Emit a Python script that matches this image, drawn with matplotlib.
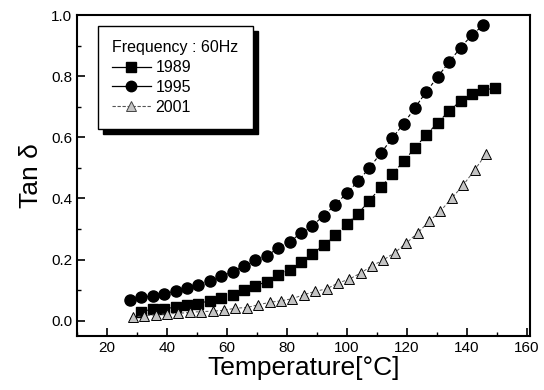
import matplotlib
matplotlib.use("Agg")
import matplotlib.pyplot as plt
from matplotlib.lines import Line2D
from matplotlib.ticker import MultipleLocator

plt.rcParams['font.family'] = ['Liberation Sans', 'DejaVu Sans']

# Data
temp_1989 = [31.5, 35.3, 39.1, 42.9, 46.7, 50.5, 54.3, 58.1, 61.9, 65.7, 69.5,
             73.3, 77.1, 80.9, 84.7, 88.5, 92.3, 96.1, 99.9, 103.7, 107.5,
             111.3, 115.1, 118.9, 122.7, 126.5, 130.3, 134.1, 137.9, 141.7,
             145.5, 149.3]
tan_1989 = [0.030, 0.038, 0.038, 0.045, 0.052, 0.056, 0.066, 0.073, 0.085,
            0.099, 0.114, 0.128, 0.150, 0.167, 0.191, 0.218, 0.248, 0.279,
            0.316, 0.350, 0.393, 0.436, 0.479, 0.521, 0.566, 0.608, 0.648,
            0.686, 0.719, 0.741, 0.755, 0.760]

temp_1995 = [27.7, 31.5, 35.3, 39.1, 42.9, 46.7, 50.5, 54.3, 58.1, 61.9, 65.7,
             69.5, 73.3, 77.1, 80.9, 84.7, 88.5, 92.3, 96.1, 99.9, 103.7,
             107.5, 111.3, 115.1, 118.9, 122.7, 126.5, 130.3, 134.1, 137.9,
             141.7, 145.5]
tan_1995 = [0.069, 0.076, 0.082, 0.087, 0.098, 0.107, 0.118, 0.131, 0.145,
            0.160, 0.180, 0.197, 0.211, 0.239, 0.259, 0.286, 0.311, 0.344,
            0.379, 0.417, 0.456, 0.500, 0.548, 0.597, 0.644, 0.697, 0.749,
            0.798, 0.847, 0.893, 0.935, 0.967]

temp_2001 = [28.6, 32.4, 36.2, 40.0, 43.8, 47.6, 51.4, 55.2, 59.0, 62.8, 66.6,
             70.4, 74.2, 78.0, 81.8, 85.6, 89.4, 93.2, 97.0, 100.8, 104.6,
             108.4, 112.2, 116.0, 119.8, 123.6, 127.4, 131.2, 135.0, 138.8,
             142.6, 146.4]
tan_2001 = [0.012, 0.016, 0.020, 0.022, 0.024, 0.027, 0.030, 0.031, 0.034,
            0.041, 0.043, 0.052, 0.060, 0.065, 0.072, 0.085, 0.096, 0.104,
            0.123, 0.136, 0.156, 0.180, 0.199, 0.223, 0.254, 0.287, 0.325,
            0.359, 0.401, 0.444, 0.493, 0.546]

fig = plt.figure(figsize=(5.44, 3.9), dpi=100)
ax = fig.add_axes([0.1415, 0.1385, 0.8325, 0.823])

ax.plot(temp_1989, tan_1989, color='black', lw=0.8, ls=(0, (3, 2)),
        marker='s', ms=7, mfc='black', mec='black')
ax.plot(temp_1995, tan_1995, color='black', lw=0.8, ls=(0, (3, 2)),
        marker='o', ms=8, mfc='black', mec='black')
ax.plot(temp_2001, tan_2001, color='#555555', lw=0.7, ls=(0, (3, 2)),
        marker='^', ms=7.5, mfc='#c4c4c4', mec='black', mew=0.7)

ax.set_xlim(10, 161)
ax.set_ylim(-0.05, 1.0)
ax.xaxis.set_major_locator(MultipleLocator(20))
ax.xaxis.set_minor_locator(MultipleLocator(10))
ax.yaxis.set_major_locator(MultipleLocator(0.2))
ax.yaxis.set_minor_locator(MultipleLocator(0.1))
ax.yaxis.set_major_formatter(plt.FormatStrFormatter('%.1f'))
ax.tick_params(which='major', direction='in', length=6, width=1.2, labelsize=11)
ax.tick_params(which='minor', direction='in', length=3, width=1)
for sp in ax.spines.values():
    sp.set_linewidth(1.5)

ax.set_xlabel('Temperature[°C]', fontsize=19, labelpad=1)
ax.set_ylabel('Tan δ', fontsize=19, labelpad=6)

# legend handles drawn like the original key: solid for 1989/1995
handles = [
    Line2D([], [], color='black', lw=0.9, marker='s', ms=6.5, mfc='black', mec='black'),
    Line2D([], [], color='black', lw=0.9, marker='o', ms=7.5, mfc='black', mec='black'),
    Line2D([], [], color='#555555', lw=0.8, ls=(0, (3, 1.5)), marker='^', ms=7,
           mfc='#c4c4c4', mec='#444444', mew=0.7),
]
leg = ax.legend(handles, ['1989', '1995', '2001'], title='Frequency : 60Hz',
                loc='upper left', bbox_to_anchor=(0.046, 0.966), borderaxespad=0,
                fancybox=False, edgecolor='black', framealpha=1,
                fontsize=11.5, title_fontsize=11.5, handlelength=2.4,
                handletextpad=0.3, labelspacing=0.3, borderpad=0.9,
                shadow={'ox': 3.5, 'oy': -3.5, 'color': 'black', 'alpha': 1})
leg._legend_box.align = 'left'
leg.get_frame().set_linewidth(1.0)

fig.savefig('out.png', dpi=100)
